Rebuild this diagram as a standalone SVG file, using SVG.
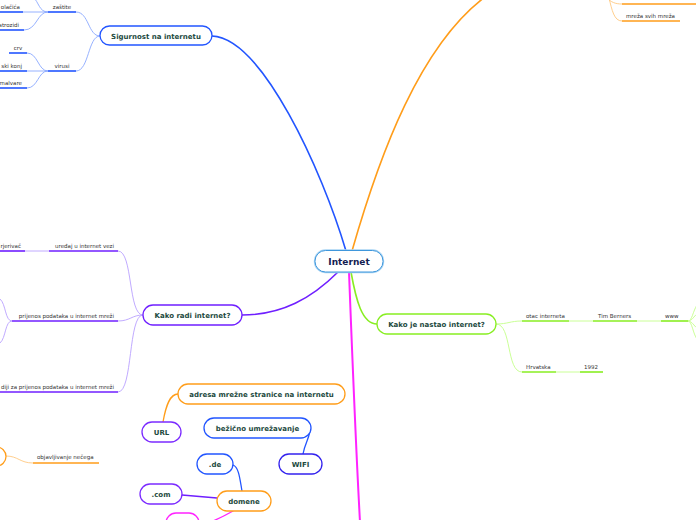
<svg xmlns="http://www.w3.org/2000/svg" width="696" height="520" viewBox="0 0 696 520">
<style>
  .nb{fill:#fff;stroke-width:1.3}
  .t{font-family:"DejaVu Sans",Verdana,sans-serif;font-weight:bold;font-size:7px;fill:#1d4a3e;text-anchor:middle}
  .c{font-family:"DejaVu Sans",Verdana,sans-serif;font-size:5.5px;fill:#333}
  .e{text-anchor:end}
  .m{text-anchor:middle}
  .ln{fill:none;stroke-linecap:round}
  .ul{fill:none;stroke-width:1.6}
  .th{fill:none;stroke-width:0.9}
</style>
<rect width="696" height="520" fill="#fff"/>
<g id="connectors">
  <!-- main branches -->
  <path class="ln" d="M212,36 C262,38 322,170 346,251" stroke="#2255ff" stroke-width="1.6"/>
  <path class="ln" d="M352,251 C378,160 420,40 492,-8" stroke="#ff9d1a" stroke-width="1.6"/>
  <path class="ln" d="M338,272 C312,298 282,315 242,315" stroke="#6f1fff" stroke-width="1.6"/>
  <path class="ln" d="M351,272 C356,300 362,324 377,324" stroke="#88ee22" stroke-width="1.6"/>
  <path class="ln" d="M349,272 C352,350 356,450 360,522" stroke="#ff22ff" stroke-width="2"/>
  <!-- sigurnost -->
  <g stroke="#8aa8ff">
    <path class="th" d="M100,36 C88,36 89,12 76,12"/>
    <path class="th" d="M100,36 C88,36 89,71 76,71"/>
    <path class="th" d="M48,12 C39,12 39,2 33,-3"/>
    <path class="th" d="M48,12 H23"/>
    <path class="th" d="M48,12 C37,12 37,30 24,30"/>
    <path class="th" d="M48,71 C38,71 38,53 27,53"/>
    <path class="th" d="M48,71 H27"/>
    <path class="th" d="M48,71 C38,71 38,88 27,88"/>
  </g>
  <g stroke="#2255ff">
    <path class="ul" d="M48,12 H76"/>
    <path class="ul" d="M48,71 H76"/>
    <path class="ul" d="M0,12 H23"/>
    <path class="ul" d="M0,30 H24"/>
    <path class="ul" d="M9,53 H27"/>
    <path class="ul" d="M0,71 H27"/>
    <path class="ul" d="M0,88 H27"/>
  </g>
  <!-- kako radi -->
  <g stroke="#b9a0ff">
    <path class="th" d="M143,315 C128,315 133,251 118,251"/>
    <path class="th" d="M143,315 C132,315 130,321 118,321"/>
    <path class="th" d="M143,315 C128,315 133,392 118,392"/>
    <path class="th" d="M25,251 H49"/>
    <path class="th" d="M12,321 C5,321 6,304 0,299"/>
    <path class="th" d="M12,321 C5,321 6,338 0,343"/>
  </g>
  <g stroke="#6f1fff">
    <path class="ul" d="M49,251 H118"/>
    <path class="ul" d="M0,251 H25"/>
    <path class="ul" d="M12,321 H118"/>
    <path class="ul" d="M0,392 H118"/>
  </g>
  <!-- kako je nastao -->
  <g stroke="#c4ff8a">
    <path class="th" d="M496,324 C508,324 510,321 522,321"/>
    <path class="th" d="M496,324 C512,324 506,372 522,372"/>
    <path class="th" d="M569,321 H593"/>
    <path class="th" d="M637,321 H661"/>
    <path class="th" d="M556,372 H580"/>
    <path class="th" d="M688,321 C692,321 693,311 697,305"/>
    <path class="th" d="M688,321 C692,321 694,316 697,314"/>
    <path class="th" d="M688,321 C692,321 694,326 697,328"/>
    <path class="th" d="M688,321 C692,321 693,334 697,339"/>
  </g>
  <g stroke="#88ee22">
    <path class="ul" d="M522,321 H569"/>
    <path class="ul" d="M593,321 H637"/>
    <path class="ul" d="M661,321 H688"/>
    <path class="ul" d="M522,372 H556"/>
    <path class="ul" d="M580,372 H603"/>
  </g>
  <!-- top right orange -->
  <g stroke="#ffc880">
    <path class="th" d="M607,-2 C611,2 615,4 622,4"/>
    <path class="th" d="M609,-2 C612,10 614,21 622,21"/>
    <path class="th" d="M6,456 C18,456 20,463 33,463"/>
  </g>
  <g stroke="#ff9d1a">
    <path class="ul" d="M622,4 H697"/>
    <path class="ul" d="M622,21 H680"/>
    <path class="ul" d="M33,463 H99"/>
  </g>
  <!-- floating -->
  <path class="ln" d="M163,422 C166,405 170,394 178,394" stroke="#ff9d1a" stroke-width="1.3"/>
  <path class="ln" d="M303,454 C305,442 311,436 310,427" stroke="#2255ff" stroke-width="1.3"/>
  <path class="ln" d="M233,465 C239,467 240,480 242,491" stroke="#2255ff" stroke-width="1.3"/>
  <path class="ln" d="M182,495 L217,498" stroke="#6f1fff" stroke-width="1.3"/>
  <path class="ln" d="M233,511 C226,515 220,518 213,521" stroke="#ff22ff" stroke-width="1.3"/>
</g>

<g id="internet">
  <rect x="315" y="250.5" width="68" height="21.5" rx="10.5" fill="#fff" stroke="#a8d4f4" stroke-width="2.4"/>
  <rect x="315" y="250.5" width="68" height="21.5" rx="10.5" fill="#fff" stroke="#3f97dc" stroke-width="1"/>
  <text x="349" y="265" class="t" style="font-size:9px;fill:#132050">Internet</text>
</g>
<g id="sigurnost">
  <rect class="nb" x="100" y="26" width="112" height="19" rx="9.5" stroke="#2255ff"/>
  <text x="156" y="38.5" class="t">Sigurnost na internetu</text>
</g>
<g id="zastite"><text x="62" y="8.5" class="c m">zaštite</text></g>
<g id="virusi"><text x="62" y="67.5" class="c m">virusi</text></g>
<g id="kolacica"><text x="20" y="8.5" class="c e">olačića</text></g>
<g id="vatrozidi"><text x="19" y="26.5" class="c e">atrozidi</text></g>
<g id="crv"><text x="18" y="49.5" class="c m">crv</text></g>
<g id="konj"><text x="22" y="67.5" class="c e">ski konj</text></g>
<g id="malvare"><text x="22" y="84.5" class="c e">malvare</text></g>

<g id="kakoradi">
  <rect class="nb" x="143" y="305" width="99" height="20" rx="10" stroke="#6f1fff"/>
  <text x="192.5" y="317.5" class="t">Kako radi internet?</text>
</g>
<g id="uredaj"><text x="114" y="247.5" class="c e">uređaj u internet vezi</text></g>
<g id="usmjerivac"><text x="21" y="247.5" class="c e">rjerivač</text></g>
<g id="prijenos"><text x="114" y="317.5" class="c e">prijenos podataka u internet mreži</text></g>
<g id="uredaji"><text x="114" y="388.5" class="c e">diji za prijenos podataka u internet mreži</text></g>

<g id="nastao">
  <rect class="nb" x="377" y="314" width="119" height="20" rx="10" stroke="#88ee22"/>
  <text x="436.5" y="326.5" class="t">Kako je nastao internet?</text>
</g>
<g id="otac"><text x="526" y="317.5" class="c">otac interneta</text></g>
<g id="tim"><text x="598" y="317.5" class="c">Tim Berners</text></g>
<g id="www"><text x="665" y="317.5" class="c">www</text></g>
<g id="hrvatska"><text x="526" y="368.5" class="c">Hrvatska</text></g>
<g id="y1992"><text x="584" y="368.5" class="c">1992</text></g>

<g id="mreza"><text x="626" y="17.5" class="c">mreža svih mreža</text></g>
<g id="orangeleft">
  <rect class="nb" x="-60" y="447" width="66" height="19" rx="9.5" stroke="#ff9d1a"/>
</g>
<g id="objavljivanje"><text x="37" y="459" class="c">objavljivanje nečega</text></g>

<g id="adresa">
  <rect class="nb" x="178" y="384" width="167" height="20" rx="10" stroke="#ff9d1a"/>
  <text x="261.5" y="396.5" class="t">adresa mrežne stranice na internetu</text>
</g>
<g id="url">
  <rect class="nb" x="142" y="422" width="39" height="20" rx="10" stroke="#7b2bff"/>
  <text x="161.5" y="434.5" class="t">URL</text>
</g>
<g id="bezicno">
  <rect class="nb" x="204" y="418" width="107" height="20" rx="10" stroke="#2255ff"/>
  <text x="257.5" y="430.5" class="t">bežično umrežavanje</text>
</g>
<g id="wifi">
  <rect class="nb" x="279" y="454" width="43" height="20" rx="10" stroke="#3322ee"/>
  <text x="300.5" y="466.5" class="t">WIFI</text>
</g>
<g id="de">
  <rect class="nb" x="197" y="454" width="36" height="20" rx="10" stroke="#2255ff"/>
  <text x="215" y="466.5" class="t">.de</text>
</g>
<g id="com">
  <rect class="nb" x="140" y="484" width="42" height="20" rx="10" stroke="#7b2bff"/>
  <text x="161" y="496.5" class="t">.com</text>
</g>
<g id="domene">
  <rect class="nb" x="217" y="491" width="54" height="20" rx="10" stroke="#ff9d1a"/>
  <text x="244" y="503.5" class="t">domene</text>
</g>
<g id="pinknode">
  <rect class="nb" x="166" y="513" width="33" height="20" rx="10" stroke="#ff22ff"/>
</g>
</svg>
